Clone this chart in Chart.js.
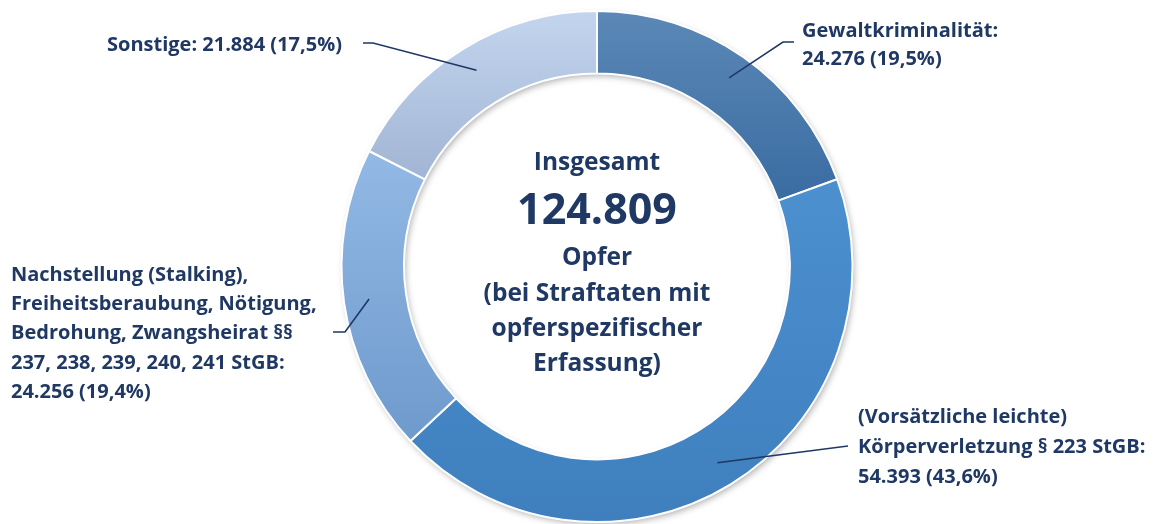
<!DOCTYPE html>
<html lang="de">
<head>
<meta charset="utf-8">
<title>Opfer bei Straftaten mit opferspezifischer Erfassung</title>
<script src="https://cdn.jsdelivr.net/npm/chart.js@4/dist/chart.umd.min.js"></script>
<style>
  html, body { margin: 0; padding: 0; background: #ffffff; }
  #chart { display: block; }
</style>
</head>
<body>
<canvas id="chart" width="1155" height="524"></canvas>
<script>
// Daten
const categories = [
  "Gewaltkriminalität",
  "(Vorsätzliche leichte) Körperverletzung § 223 StGB",
  "Nachstellung (Stalking), Freiheitsberaubung, Nötigung, Bedrohung, Zwangsheirat §§ 237, 238, 239, 240, 241 StGB",
  "Sonstige"
];
const victims = [24276, 54393, 24256, 21884];
const shares = [19.5, 43.6, 19.4, 17.5];
const total = 124809;

// Zeilenumbruch der Beschriftungen wie im Original
const labelLines = [
  ["Gewaltkriminalität:"],
  ["(Vorsätzliche leichte)", "Körperverletzung § 223 StGB:"],
  ["Nachstellung (Stalking),", "Freiheitsberaubung, Nötigung,", "Bedrohung, Zwangsheirat §§", "237, 238, 239, 240, 241 StGB:"],
  ["Sonstige:"]
];
const centerLines = ["Insgesamt", "Opfer", "(bei Straftaten mit", "opferspezifischer", "Erfassung)"];

const navy = "#1f3864";
const fontFamily = "'Open Sans', sans-serif";

// Verlauf je Segment (oben -> unten)
const sliceGradients = [
  ["#5b88b6", "#3a6ca2"],
  ["#4c90d0", "#3f7fbe"],
  ["#93b9e5", "#6e9acc"],
  ["#c3d5ee", "#a1b5d4"]
];

// Position der Beschriftungen und Knick der Führungslinien
const labelLayout = [
  { x: 802, y: 31, lineH: 28, elbow: [783, 42], end: [794, 42], sameLine: false },
  { x: 858, y: 417, lineH: 30, elbow: null, end: [848, 446], sameLine: false },
  { x: 11, y: 275, lineH: 29.3, elbow: [345, 332], end: [333, 332], sameLine: false },
  { x: 107, y: 45, lineH: 28, elbow: [373, 43], end: [363, 43], sameLine: true }
];

const fmtNum = v => v.toLocaleString("de-DE");
const fmtPct = v => v.toLocaleString("de-DE", { minimumFractionDigits: 1, maximumFractionDigits: 1 }) + "%";

const gradientPlugin = {
  id: "gradients",
  beforeDatasetsDraw(chart) {
    const ctx = chart.ctx;
    const meta = chart.getDatasetMeta(0);
    const first = meta.data[0];
    if (!first) return;

    // Schatten unter dem Ring
    ctx.save();
    ctx.shadowColor = "rgba(0,0,0,0.35)";
    ctx.shadowBlur = 7;
    ctx.shadowOffsetX = 2;
    ctx.shadowOffsetY = 3;
    ctx.beginPath();
    ctx.arc(first.x, first.y, first.outerRadius - 1, 0, Math.PI * 2);
    ctx.arc(first.x, first.y, first.innerRadius + 1, 0, Math.PI * 2, true);
    ctx.fillStyle = "#ffffff";
    ctx.fill();
    ctx.restore();

    meta.data.forEach((arc, i) => {
      let minY = Infinity, maxY = -Infinity;
      for (let k = 0; k <= 40; k++) {
        const a = arc.startAngle + (arc.endAngle - arc.startAngle) * k / 40;
        [arc.innerRadius, arc.outerRadius].forEach(r => {
          const y = arc.y + Math.sin(a) * r;
          minY = Math.min(minY, y);
          maxY = Math.max(maxY, y);
        });
      }
      const g = ctx.createLinearGradient(0, minY, 0, maxY);
      g.addColorStop(0, sliceGradients[i][0]);
      g.addColorStop(1, sliceGradients[i][1]);
      arc.options.backgroundColor = g;
    });
  }
};

const labelPlugin = {
  id: "labels",
  afterDatasetsDraw(chart) {
    const ctx = chart.ctx;
    const meta = chart.getDatasetMeta(0);
    ctx.save();
    ctx.fillStyle = navy;
    ctx.strokeStyle = navy;
    ctx.lineWidth = 1.6;
    ctx.textBaseline = "middle";
    ctx.textAlign = "left";
    ctx.font = "bold 20px " + fontFamily;

    meta.data.forEach((arc, i) => {
      const lay = labelLayout[i];
      const mid = (arc.startAngle + arc.endAngle) / 2;
      const r = (arc.innerRadius + arc.outerRadius) / 2 + 6;
      const ax = arc.x + Math.cos(mid) * r;
      const ay = arc.y + Math.sin(mid) * r;

      ctx.beginPath();
      ctx.moveTo(ax, ay);
      if (lay.elbow) ctx.lineTo(lay.elbow[0], lay.elbow[1]);
      ctx.lineTo(lay.end[0], lay.end[1]);
      ctx.stroke();

      const valueText = fmtNum(victims[i]) + " (" + fmtPct(shares[i]) + ")";
      const lines = labelLines[i].slice();
      if (lay.sameLine) {
        lines[lines.length - 1] += " " + valueText;
      } else {
        lines.push(valueText);
      }
      lines.forEach((line, k) => {
        ctx.fillText(line, lay.x, lay.y + k * lay.lineH);
      });
    });

    // Text in der Mitte
    const cx = meta.data[0].x;
    ctx.textAlign = "center";
    ctx.font = "bold 24.5px " + fontFamily;
    ctx.fillText(centerLines[0], cx, 163);
    ctx.font = "bold 43px " + fontFamily;
    ctx.fillText(fmtNum(total), cx, 212);
    ctx.font = "bold 24.5px " + fontFamily;
    ctx.fillText(centerLines[1], cx, 258);
    ctx.fillText(centerLines[2], cx, 294);
    ctx.fillText(centerLines[3], cx, 329);
    ctx.fillText(centerLines[4], cx, 364);
    ctx.restore();
  }
};

new Chart(document.getElementById("chart"), {
  type: "doughnut",
  data: {
    labels: categories,
    datasets: [{
      data: victims,
      backgroundColor: sliceGradients.map(c => c[1]),
      borderColor: "#ffffff",
      borderWidth: 2,
      borderAlign: "center"
    }]
  },
  options: {
    responsive: false,
    animation: false,
    cutout: "75.5%",
    layout: { padding: { top: 10, bottom: 1, left: 340, right: 301 } },
    plugins: {
      legend: { display: false },
      tooltip: { enabled: false }
    }
  },
  plugins: [gradientPlugin, labelPlugin]
});
</script>
</body>
</html>
